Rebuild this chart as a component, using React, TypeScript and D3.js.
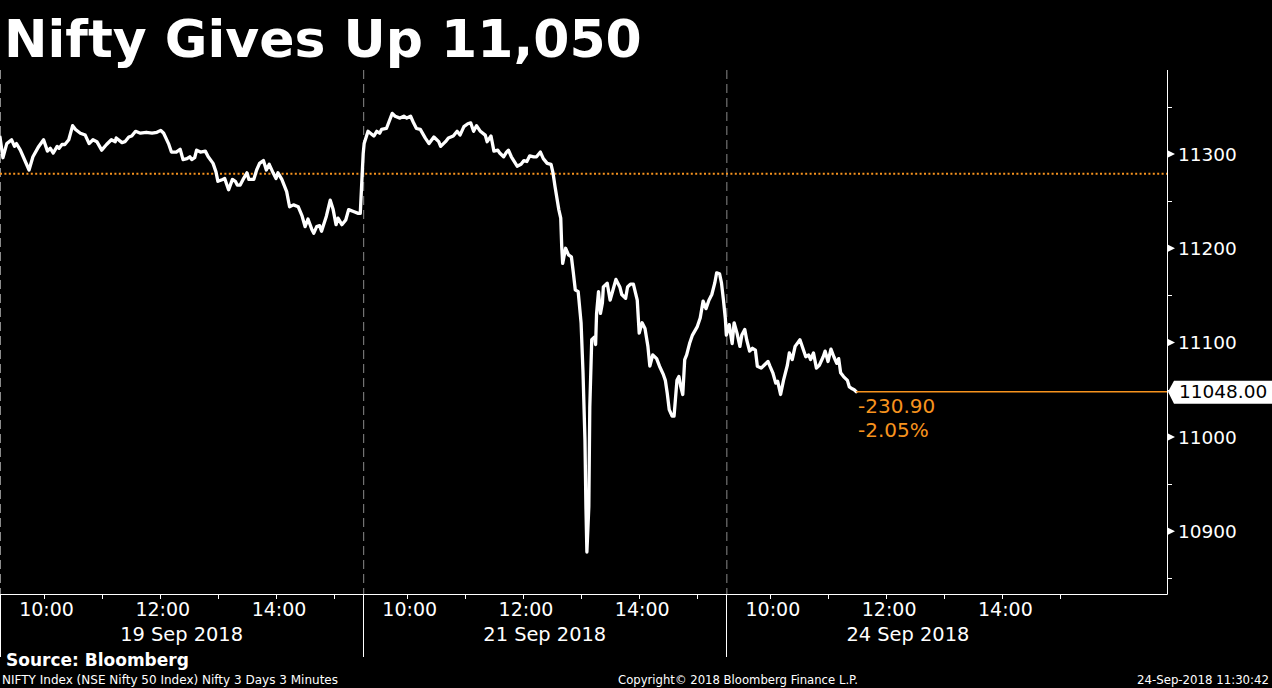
import React from "react";
import * as d3 from "d3";

const titleText = "Nifty Gives Up 11,050";
const sourceText = "Source: Bloomberg";
const footerLeft = "NIFTY Index (NSE Nifty 50 Index) Nifty 3 Days 3 Minutes";
const footerCenter = "Copyright\u00A9 2018 Bloomberg Finance L.P.";
const footerRight = "24-Sep-2018 11:30:42";

const dayLabels = ["19 Sep 2018", "21 Sep 2018", "24 Sep 2018"];
const sessionMinutes = 375; // 09:15 - 15:30
const hourTicks = [10, 11, 12, 13, 14, 15];
const hourLabels = [10, 12, 14];
const yMajorTicks = [10900, 11000, 11100, 11200, 11300];
const yMinorTicks = [10850, 10950, 11050, 11150, 11250, 11350];
const lastValue = 11048.0;
const referenceValue = 11278.9;
const changeValue = -230.9;
const changePct = -2.05;

// [minutes since 09:15, value]
const day1Series: [number, number][] = [
  [0, 11318], [3, 11296], [7, 11311], [12, 11315], [15, 11308], [17, 11311], [21, 11304], [24, 11297],
  [30, 11283], [34, 11297], [40, 11308], [45, 11315], [49, 11303], [52, 11306], [55, 11301], [59, 11308],
  [61, 11306], [64, 11310], [67, 11310], [71, 11315], [75, 11330], [78, 11326], [83, 11322], [88, 11320],
  [92, 11311], [96, 11315], [100, 11313], [105, 11304], [110, 11310], [115, 11315], [119, 11313], [120, 11317],
  [126, 11312], [129, 11313], [133, 11318], [136, 11319], [140, 11324], [145, 11322], [151, 11323], [157, 11322],
  [162, 11323], [166, 11325], [169, 11322], [174, 11311], [177, 11302], [182, 11302], [186, 11305], [189, 11294],
  [193, 11295], [196, 11297], [198, 11294], [201, 11296], [203, 11304], [207, 11302], [212, 11303], [215, 11297],
  [220, 11290], [223, 11281], [225, 11271], [230, 11273], [232, 11274], [236, 11262], [240, 11273], [243, 11271],
  [245, 11267], [248, 11267], [251, 11273], [255, 11280], [257, 11273], [260, 11273], [262, 11273], [265, 11283],
  [268, 11290], [272, 11293], [275, 11283], [278, 11289], [282, 11280], [285, 11274], [287, 11280], [291, 11273],
  [296, 11260], [299, 11244], [303, 11246], [308, 11244], [312, 11234], [315, 11223], [318, 11231], [322, 11220],
  [324, 11216], [327, 11223], [330, 11224], [332, 11218], [337, 11234], [341, 11251], [344, 11241], [347, 11225],
  [349, 11232], [353, 11225], [357, 11230], [360, 11241], [365, 11239], [370, 11237], [372, 11237],
];

const day2Series: [number, number][] = [
  [0, 11300], [1, 11311], [5, 11324], [11, 11319], [14, 11324], [17, 11322], [19, 11326], [24, 11327],
  [30, 11343], [33, 11340], [38, 11338], [42, 11340], [45, 11338], [49, 11340], [52, 11333], [55, 11327],
  [59, 11326], [64, 11317], [68, 11311], [73, 11318], [78, 11313], [80, 11308], [85, 11313], [88, 11317],
  [93, 11319], [97, 11324], [100, 11320], [104, 11329], [108, 11332], [111, 11333], [114, 11324], [117, 11330],
  [121, 11324], [126, 11320], [128, 11313], [132, 11319], [135, 11303], [139, 11304], [141, 11301], [145, 11297],
  [148, 11302], [150, 11304], [153, 11297], [159, 11287], [163, 11289], [166, 11293], [169, 11292], [172, 11298],
  [176, 11297], [179, 11297], [183, 11302], [186, 11295], [190, 11290], [194, 11289], [196, 11280], [198, 11266],
  [202, 11241], [204, 11232], [205, 11202], [206, 11184], [209, 11200], [212, 11193], [215, 11191], [217, 11174],
  [219, 11156], [222, 11154], [225, 11121], [227, 11068], [229, 10997], [230, 10926], [231, 10878], [233, 10926],
  [234, 11032], [236, 11103], [239, 11106], [240, 11098], [241, 11131], [243, 11154], [245, 11131], [247, 11142],
  [248, 11159], [252, 11163], [255, 11145], [258, 11156], [261, 11167], [265, 11159], [267, 11151], [271, 11147],
  [273, 11159], [276, 11162], [279, 11162], [283, 11145], [285, 11110], [288, 11121], [291, 11115], [294, 11096],
  [296, 11075], [299, 11087], [303, 11083], [306, 11075], [310, 11066], [312, 11060], [314, 11046], [316, 11029],
  [319, 11022], [321, 11022], [324, 11060], [326, 11064], [328, 11053], [330, 11045], [332, 11082], [334, 11087],
  [337, 11099], [340, 11108], [345, 11117], [348, 11126], [351, 11144], [354, 11136], [357, 11145], [360, 11151],
  [363, 11163], [365, 11174], [368, 11173], [370, 11163], [372, 11145], [374, 11125],
];

const day3Series: [number, number][] = [
  [0, 11108], [3, 11119], [6, 11099], [8, 11121], [11, 11110], [14, 11096], [16, 11108], [19, 11114],
  [21, 11103], [24, 11091], [27, 11094], [30, 11092], [32, 11075], [36, 11073], [39, 11076], [43, 11080],
  [45, 11075], [48, 11068], [51, 11057], [53, 11059], [56, 11045], [59, 11060], [63, 11076], [65, 11089],
  [68, 11082], [71, 11096], [76, 11103], [79, 11094], [82, 11085], [85, 11087], [87, 11082], [90, 11089],
  [93, 11073], [96, 11076], [100, 11085], [102, 11091], [105, 11080], [108, 11093], [111, 11085], [114, 11078],
  [116, 11083], [118, 11068], [121, 11064], [125, 11060], [127, 11053], [130, 11051], [132, 11050], [134, 11048],
];

const W = 1272;
const H = 688;
const plotLeft = 0;
const plotRight = 1167;
const plotTop = 70;
const plotBottom = 594;
const ORANGE = "#f7931e";
const FONT = "'DejaVu Sans', Verdana, sans-serif";

export default function App() {
  const allDays = [day1Series, day2Series, day3Series];
  const points: { t: number; v: number }[] = [];
  allDays.forEach((s, i) => s.forEach(([m, v]) => points.push({ t: i * sessionMinutes + m, v })));

  const x = d3.scaleLinear().domain([0, 1205]).range([plotLeft, plotRight]);
  const y = d3.scaleLinear().domain([10833.5, 11389]).range([plotBottom, plotTop]);

  const line = d3
    .line<{ t: number; v: number }>()
    .x((d) => x(d.t))
    .y((d) => y(d.v));

  const last = points[points.length - 1];
  const lastX = x(last.t);
  const lastY = y(lastValue);

  return (
    <div style={{ position: "fixed", left: 0, top: 0, width: W, height: H, background: "#000" }}>
      <svg width={W} height={H} style={{ display: "block", background: "#000" }}>
        <text x={4} y={57} fill="#fff" fontFamily={FONT} fontWeight="bold" fontSize={52}>
          {titleText}
        </text>

        {/* day separators in plot (dashed) */}
        {[0, 1, 2].map((i) => (
          <line
            key={"ds" + i}
            x1={x(i * sessionMinutes) + 0.5}
            x2={x(i * sessionMinutes) + 0.5}
            y1={plotTop}
            y2={plotBottom}
            stroke="#8a8a8a"
            strokeWidth={1}
            strokeDasharray="9,5"
          />
        ))}

        {/* reference dotted line */}
        <line
          x1={plotLeft}
          x2={plotRight}
          y1={y(referenceValue)}
          y2={y(referenceValue)}
          stroke={ORANGE}
          strokeWidth={2}
          strokeDasharray="2,2.4"
        />

        {/* price line */}
        <path d={line(points) || ""} fill="none" stroke="#fff" strokeWidth={3.3} strokeLinejoin="round" strokeLinecap="round" />

        {/* last value line */}
        <line x1={lastX} x2={plotRight} y1={lastY} y2={lastY} stroke={ORANGE} strokeWidth={1.5} />
        <text x={858} y={lastY + 21} fill={ORANGE} fontFamily={FONT} fontSize={20}>
          {changeValue.toFixed(2)}
        </text>
        <text x={858} y={lastY + 45} fill={ORANGE} fontFamily={FONT} fontSize={20}>
          {changePct.toFixed(2) + "%"}
        </text>

        {/* axes lines */}
        <line x1={plotLeft} x2={plotRight + 0.5} y1={plotBottom + 0.5} y2={plotBottom + 0.5} stroke="#fff" strokeWidth={1} />
        <line x1={plotRight + 0.5} x2={plotRight + 0.5} y1={plotTop} y2={plotBottom + 0.5} stroke="#fff" strokeWidth={1} />

        {/* y ticks */}
        {yMinorTicks.map((v) => (
          <line key={"ym" + v} x1={plotRight} x2={plotRight + 5} y1={Math.round(y(v)) + 0.5} y2={Math.round(y(v)) + 0.5} stroke="#fff" />
        ))}
        {yMajorTicks.map((v) => {
          const yy = y(v);
          return (
            <g key={"yM" + v}>
              <path d={`M${plotRight + 1},${yy - 3.5}L${plotRight + 8},${yy}L${plotRight + 1},${yy + 3.5}Z`} fill="#fff" />
              <text x={1178} y={yy} dy="0.36em" fill="#fff" fontFamily={FONT} fontSize={18.5}>
                {v}
              </text>
            </g>
          );
        })}

        {/* last value tag */}
        <path
          d={`M${plotRight + 1},${lastY}L${plotRight + 7},${lastY - 11}L${W},${lastY - 11}L${W},${lastY + 12}L${plotRight + 7},${lastY + 12}Z`}
          fill="#fff"
        />
        <text x={1179} y={lastY} dy="0.36em" fill="#000" fontFamily={FONT} fontSize={18.5}>
          {lastValue.toFixed(2)}
        </text>

        {/* x axis */}
        {[0, 1, 2].map((i) => {
          const x0 = x(i * sessionMinutes);
          const xc = x(i * sessionMinutes + sessionMinutes / 2);
          return (
            <g key={"day" + i}>
              <line x1={Math.round(x0) + 0.5} x2={Math.round(x0) + 0.5} y1={plotBottom} y2={657} stroke="#fff" strokeWidth={1} />
              {hourTicks.map((h) => {
                const xx = Math.round(x(i * sessionMinutes + (h * 60 - 555))) + 0.5;
                return <line key={"ht" + h} x1={xx} x2={xx} y1={plotBottom} y2={plotBottom + 5} stroke="#fff" />;
              })}
              {hourLabels.map((h) => (
                <text
                  key={"hl" + h}
                  x={x(i * sessionMinutes + (h * 60 - 555)) + 3}
                  y={616}
                  textAnchor="middle"
                  fill="#fff"
                  fontFamily={FONT}
                  fontSize={19}
                >
                  {`${h}:00`}
                </text>
              ))}
              <text x={xc} y={641} textAnchor="middle" fill="#fff" fontFamily={FONT} fontSize={19.4}>
                {dayLabels[i]}
              </text>
            </g>
          );
        })}

        {/* footer */}
        <text x={6} y={666} fill="#fff" fontFamily={FONT} fontWeight="bold" fontSize={17}>
          {sourceText}
        </text>
        <text x={2} y={684} fill="#fff" fontFamily={FONT} fontSize={12} textLength={336} lengthAdjust="spacingAndGlyphs">
          {footerLeft}
        </text>
        <text x={618} y={684} fill="#fff" fontFamily={FONT} fontSize={12} textLength={240} lengthAdjust="spacingAndGlyphs">
          {footerCenter}
        </text>
        <text x={1137} y={684} fill="#fff" fontFamily={FONT} fontSize={12} textLength={132} lengthAdjust="spacingAndGlyphs">
          {footerRight}
        </text>
      </svg>
    </div>
  );
}
